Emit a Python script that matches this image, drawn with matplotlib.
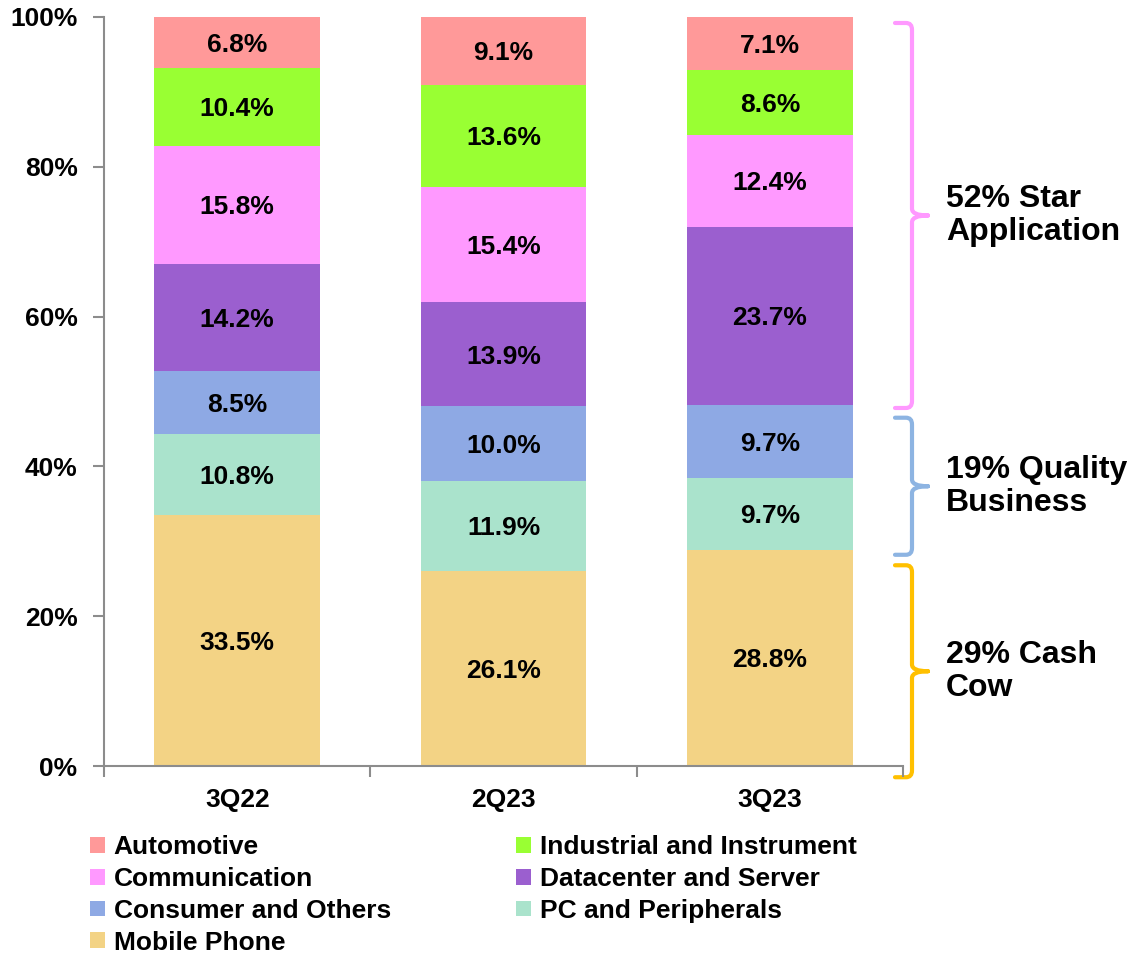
import numpy as np
import matplotlib
matplotlib.use("Agg")
import matplotlib.pyplot as plt
from matplotlib.path import Path
from matplotlib.patches import PathPatch, Patch
import matplotlib.transforms as mtransforms

plt.rcParams['font.family'] = ['Liberation Sans', 'DejaVu Sans']
plt.rcParams['font.weight'] = 'bold'

quarters = ['3Q22', '2Q23', '3Q23']
segments = ['Mobile Phone', 'PC and Peripherals', 'Consumer and Others',
            'Datacenter and Server', 'Communication',
            'Industrial and Instrument', 'Automotive']
mobile = [33.5, 26.1, 28.8]
pc = [10.8, 11.9, 9.7]
consumer = [8.5, 10.0, 9.7]
datacenter = [14.2, 13.9, 23.7]
communication = [15.8, 15.4, 12.4]
industrial = [10.4, 13.6, 8.6]
automotive = [6.8, 9.1, 7.1]
colors = ['#F3D385', '#AAE3CC', '#8EA9E4', '#9B5FCF', '#FF99FF', '#99FF33', '#FF9999']

# brace groups (y range in %), label, colour
group_labels = ['52% Star\nApplication', '19% Quality\nBusiness', '29% Cash\nCow']
group_ranges = [(47.8, 99.2), (28.2, 46.5), (-1.5, 26.8)]
group_colors = ['#FF99FF', '#8DB4E2', '#FFC000']

W, H = 1127, 956
fig = plt.figure(figsize=(W / 100, H / 100), dpi=100)
ax = fig.add_axes([104 / W, 1 - 766 / H, 799 / W, 749 / H])

series = [mobile, pc, consumer, datacenter, communication, industrial, automotive]
x = np.arange(len(quarters))
bottom = np.zeros(len(quarters))
for name, vals, c in zip(segments, series, colors):
    vals = np.array(vals)
    ax.bar(x, vals, 0.623, bottom=bottom, color=c, edgecolor='none')
    for xi, b, v in zip(x, bottom, vals):
        ax.text(xi, b + v / 2 - 0.3, f'{v:.1f}%', ha='center', va='center',
                fontsize=19, fontweight='bold', color='black')
    bottom += vals

ax.set_xlim(-0.5, 2.5)
ax.set_ylim(0, 100)
ax.set_yticks(np.arange(0, 101, 20))
ax.set_yticklabels([f'{v}%' for v in range(0, 101, 20)], fontsize=19, fontweight='bold')
ax.set_xticks(x)
ax.set_xticklabels(quarters, fontsize=19, fontweight='bold')
ax.set_xticks([-0.5, 0.5, 1.5, 2.5], minor=True)
ax.tick_params(axis='x', which='major', length=0, pad=16)
ax.tick_params(axis='x', which='minor', length=8, width=1.5, color='#8C8C8C', direction='out')
ax.tick_params(axis='y', length=8, width=1.5, color='#8C8C8C', pad=11)
for s in ['top', 'right']:
    ax.spines[s].set_visible(False)
for s in ['left', 'bottom']:
    ax.spines[s].set_color('#8C8C8C')
    ax.spines[s].set_linewidth(1.5)

# braces on the right
trans = mtransforms.blended_transform_factory(fig.transFigure, ax.transData)
xl, xs, xt = 895 / W, 912 / W, 928 / W
xc = 906 / W
r = 0.9
for (y0, y1), lab, c in zip(group_ranges, group_labels, group_colors):
    ym = (y0 + y1) / 2
    verts = [(xl, y1), (xc, y1), (xs, y1), (xs, y1 - r),
             (xs, ym + r), (xs, ym), (xt, ym),
             (xt, ym), (xs, ym), (xs, ym - r),
             (xs, y0 + r), (xs, y0), (xc, y0), (xl, y0)]
    codes = [Path.MOVETO, Path.LINETO, Path.CURVE3, Path.CURVE3,
             Path.LINETO, Path.CURVE3, Path.CURVE3,
             Path.MOVETO, Path.CURVE3, Path.CURVE3,
             Path.LINETO, Path.CURVE3, Path.CURVE3, Path.LINETO]
    path = Path(verts, codes)
    ax.add_patch(PathPatch(path, facecolor='none', edgecolor=c, lw=3,
                           transform=trans, clip_on=False, capstyle='round'))
    ax.text(946 / W, ym, lab, transform=trans, ha='left', va='center',
            fontsize=23, fontweight='bold', linespacing=1.15)

order = ['Automotive', 'Communication', 'Consumer and Others', 'Mobile Phone',
         'Industrial and Instrument', 'Datacenter and Server', 'PC and Peripherals']
leg_handles = [Patch(facecolor=colors[segments.index(n)], edgecolor='none') for n in order]
fig.legend(leg_handles, order, ncol=2, loc='upper left',
           bbox_to_anchor=(90 / W, 1 - 835 / H), frameon=False,
           prop={'weight': 'bold', 'size': 19},
           handlelength=0.55, handleheight=0.55, handletextpad=0.35,
           columnspacing=4.75, labelspacing=0.3, borderpad=0, borderaxespad=0)

fig.savefig('out.png', dpi=100)
